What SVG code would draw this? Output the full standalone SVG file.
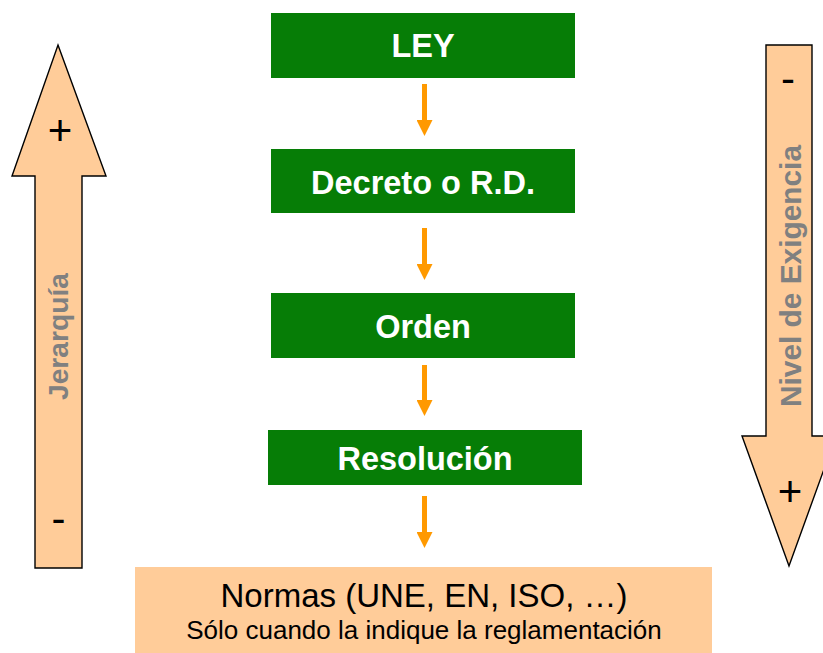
<svg xmlns="http://www.w3.org/2000/svg" width="823" height="653" viewBox="0 0 823 653">
  <style>
    .box { fill: #067d06; }
    .lbl { font-family: "Liberation Sans", Arial, sans-serif; font-weight: bold; font-size: 32.5px; fill: #ffffff; text-anchor: middle; }
    .big { fill: #ffcc99; stroke: #000000; stroke-width: 1.4; stroke-linejoin: miter; }
    .side { font-family: "Liberation Sans", Arial, sans-serif; font-weight: bold; fill: #808080; text-anchor: middle; }
    .sign { font-family: "Liberation Sans", Arial, sans-serif; font-size: 42px; fill: #000000; text-anchor: middle; }
    .norm { font-family: "Liberation Sans", Arial, sans-serif; fill: #000000; text-anchor: middle; }
    .flow { stroke: #ff9900; stroke-width: 5; fill: none; }
  </style>
  <defs>
    <marker id="head" markerUnits="userSpaceOnUse" markerWidth="16" markerHeight="16" refX="0" refY="8" orient="auto" viewBox="0 0 16 16">
      <path d="M0,0 L16,8 L0,16 Z" fill="#ff9900"/>
    </marker>
  </defs>

  <rect width="823" height="653" fill="#ffffff"/>

  <!-- hierarchy arrow (up) -->
  <g id="jerarquia">
    <polygon class="big" points="58,45 106,176 82,176 82,568 35,568 35,176 12,176"/>
    <text class="side" font-size="28" transform="translate(68,336.5) rotate(-90)" textLength="127" lengthAdjust="spacingAndGlyphs">Jerarquía</text>
    <text class="sign" x="60" y="145">+</text>
    <text class="sign" x="58.5" y="533">-</text>
  </g>

  <!-- requirement level arrow (down) -->
  <g id="exigencia">
    <polygon class="big" points="766,45 812,45 812,436 836,436 789,566 742,436 766,436"/>
    <text class="side" font-size="30" transform="translate(801,276) rotate(-90)" textLength="262" lengthAdjust="spacingAndGlyphs">Nivel de Exigencia</text>
    <text class="sign" x="788" y="93">-</text>
    <text class="sign" x="790" y="506">+</text>
  </g>

  <g id="ley">
    <rect class="box" x="271" y="13" width="304" height="65"/>
    <text class="lbl" x="423" y="57">LEY</text>
  </g>

  <g id="decreto">
    <rect class="box" x="271" y="149" width="304" height="64"/>
    <text class="lbl" x="423" y="194">Decreto o R.D.</text>
  </g>

  <g id="orden">
    <rect class="box" x="271" y="293" width="304" height="65"/>
    <text class="lbl" x="423" y="338">Orden</text>
  </g>

  <g id="resolucion">
    <rect class="box" x="268" y="430" width="314" height="55"/>
    <text class="lbl" x="425" y="470">Resolución</text>
  </g>

  <g id="normas">
    <rect x="135" y="567" width="577" height="86" fill="#ffcc99"/>
    <text class="norm" x="424" y="607" font-size="33">Normas (UNE, EN, ISO, …)</text>
    <text class="norm" x="424" y="639" font-size="26">Sólo cuando la indique la reglamentación</text>
  </g>

  <!-- connectors -->
  <g id="connectors">
    <line class="flow" x1="424.5" y1="84" x2="424.5" y2="120" marker-end="url(#head)"/>
    <line class="flow" x1="424.5" y1="228" x2="424.5" y2="264" marker-end="url(#head)"/>
    <line class="flow" x1="424.5" y1="365" x2="424.5" y2="400" marker-end="url(#head)"/>
    <line class="flow" x1="424.5" y1="496" x2="424.5" y2="532" marker-end="url(#head)"/>
  </g>
</svg>
